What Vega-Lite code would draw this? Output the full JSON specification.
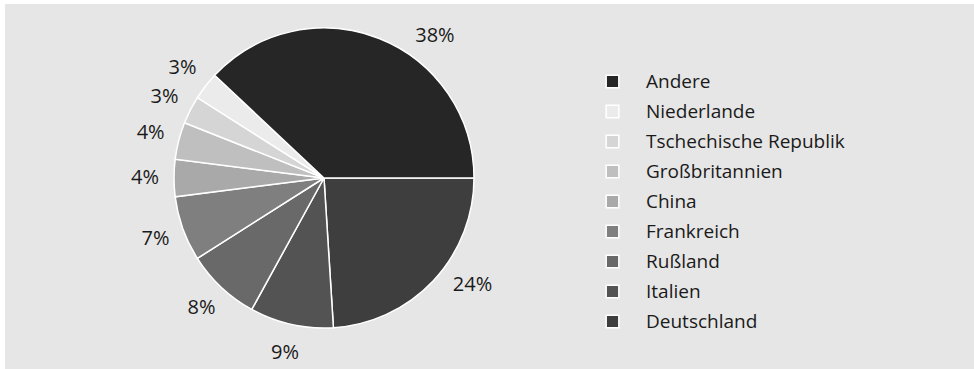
{
  "$schema": "https://vega.github.io/schema/vega-lite/v6.json",
  "width": 969,
  "height": 365,
  "autosize": {"type": "none"},
  "padding": {"left": 5, "top": 4, "right": 0, "bottom": 0},
  "background": "#ffffff",
  "config": {"view": {"fill": "#e6e6e6", "stroke": null}, "text": {"font": "Open Sans"}},
  "data": {
    "values": [
      {"country": "Deutschland", "value": 0.24, "ord": 1},
      {"country": "Italien", "value": 0.09, "ord": 2},
      {"country": "Rußland", "value": 0.08, "ord": 3},
      {"country": "Frankreich", "value": 0.07, "ord": 4},
      {"country": "China", "value": 0.04, "ord": 5},
      {"country": "Großbritannien", "value": 0.04, "ord": 6},
      {"country": "Tschechische Republik", "value": 0.03, "ord": 7},
      {"country": "Niederlande", "value": 0.03, "ord": 8},
      {"country": "Andere", "value": 0.38, "ord": 9}
    ]
  },
  "encoding": {
    "theta": {"field": "value", "type": "quantitative", "stack": true, "scale": {"range": [1.5708, 7.854]}},
    "order": {"field": "ord", "type": "quantitative"},
    "x": {"value": 319},
    "y": {"value": 174}
  },
  "layer": [
    {
      "mark": {"type": "arc", "outerRadius": 150, "stroke": "#ffffff", "strokeWidth": 1.5},
      "encoding": {
        "color": {
          "field": "country",
          "type": "nominal",
          "scale": {
            "domain": ["Andere", "Niederlande", "Tschechische Republik", "Großbritannien", "China", "Frankreich", "Rußland", "Italien", "Deutschland"],
            "range": ["#262626", "#ebebeb", "#d5d5d5", "#bfbfbf", "#a9a9a9", "#7f7f7f", "#696969", "#535353", "#3e3e3e"]
          },
          "legend": {
            "title": null,
            "orient": "none",
            "legendX": 598,
            "legendY": 68,
            "symbolType": "square",
            "symbolSize": 160,
            "symbolStrokeColor": "#ffffff",
            "symbolStrokeWidth": 1.5,
            "symbolOpacity": 1,
            "labelFont": "Open Sans",
            "labelFontSize": 19,
            "labelColor": "#1a1a1a",
            "labelOffset": 24,
            "labelLimit": 400,
            "rowPadding": 10
          }
        }
      }
    },
    {
      "mark": {"type": "text", "radius": 179, "fontSize": 20, "fill": "#1a1a1a"},
      "encoding": {
        "text": {"condition": {"test": "datum.country === 'Andere' || datum.country === 'Deutschland'", "value": ""}, "field": "value", "type": "quantitative", "format": ".0%"}
      }
    },
    {
      "mark": {"type": "text", "radius": 179, "fontSize": 20, "fill": "#1a1a1a", "dx": 45, "dy": 24},
      "encoding": {
        "text": {"condition": {"test": "datum.country !== 'Andere'", "value": ""}, "field": "value", "type": "quantitative", "format": ".0%"}
      }
    },
    {
      "mark": {"type": "text", "radius": 179, "fontSize": 20, "fill": "#1a1a1a", "dx": 18, "dy": -16},
      "encoding": {
        "text": {"condition": {"test": "datum.country !== 'Deutschland'", "value": ""}, "field": "value", "type": "quantitative", "format": ".0%"}
      }
    }
  ]
}
